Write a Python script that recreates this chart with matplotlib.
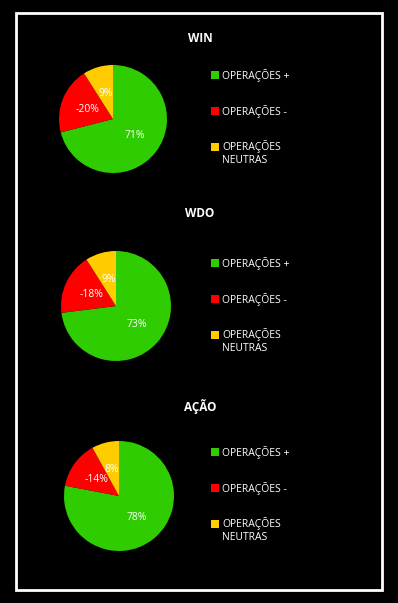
import matplotlib.pyplot as plt
from matplotlib.patches import Patch, Rectangle

plt.rcParams['font.family'] = ['Open Sans', 'DejaVu Sans']

# Dados
titulos = ['WIN', 'WDO', 'AÇÃO']
positivas = [71, 73, 78]
negativas = [20, 18, 14]
neutras = [9, 9, 8]
rotulos = ['OPERAÇÕES +', 'OPERAÇÕES -', 'OPERAÇÕES\nNEUTRAS']
cores = ['#2ecc00', '#ff0000', '#ffcc00']

W, H = 398, 603
fig = plt.figure(figsize=(W / 100, H / 100), dpi=100, facecolor='black')

# moldura branca
fig.patches.append(Rectangle((16 / W, 1 - 590 / H), 366 / W, 577 / H,
                             transform=fig.transFigure, fill=False,
                             edgecolor='white', linewidth=2))

centros = [(113, 119), (116, 306), (119, 496)]
raios = [54, 55, 55]
titulo_y = [39, 214, 406]
legenda_y = [69, 257, 446]

for i in range(3):
    cx, cy = centros[i]
    r = raios[i]
    ax = fig.add_axes([(cx - r) / W, 1 - (cy + r) / H, 2 * r / W, 2 * r / H])
    ax.set_facecolor('black')
    vals = [positivas[i], negativas[i], neutras[i]]
    textos = [f'{positivas[i]}%', f'-{negativas[i]}%', f'{neutras[i]}%']
    wedges, _ = ax.pie(vals, colors=cores, startangle=90, counterclock=False,
                       labels=textos, labeldistance=0.5,
                       textprops=dict(color='white', fontsize=7.5, ha='center', va='center'),
                       wedgeprops=dict(linewidth=0))
    ax.set_xlim(-1, 1)
    ax.set_ylim(-1, 1)
    ax.set_aspect('equal')

    fig.text(200 / W, 1 - titulo_y[i] / H, titulos[i], color='white',
             fontsize=8.5, fontweight='bold', ha='center', va='center')

    handles = [Patch(facecolor=c, edgecolor='none') for c in cores]
    leg = fig.legend(handles, rotulos, loc='upper left',
                     bbox_to_anchor=(211 / W, 1 - legenda_y[i] / H),
                     frameon=False, fontsize=7.5, labelcolor='white',
                     handlelength=0.75, handleheight=0.75, handletextpad=0.3,
                     labelspacing=2.2, borderpad=0, borderaxespad=0)
    # quadrado amarelo alinhado com a primeira linha
    q = leg.legend_handles[2]
    q.set_y(q.get_y() + 4.7)

fig.savefig('out.png', dpi=100, facecolor='black')
